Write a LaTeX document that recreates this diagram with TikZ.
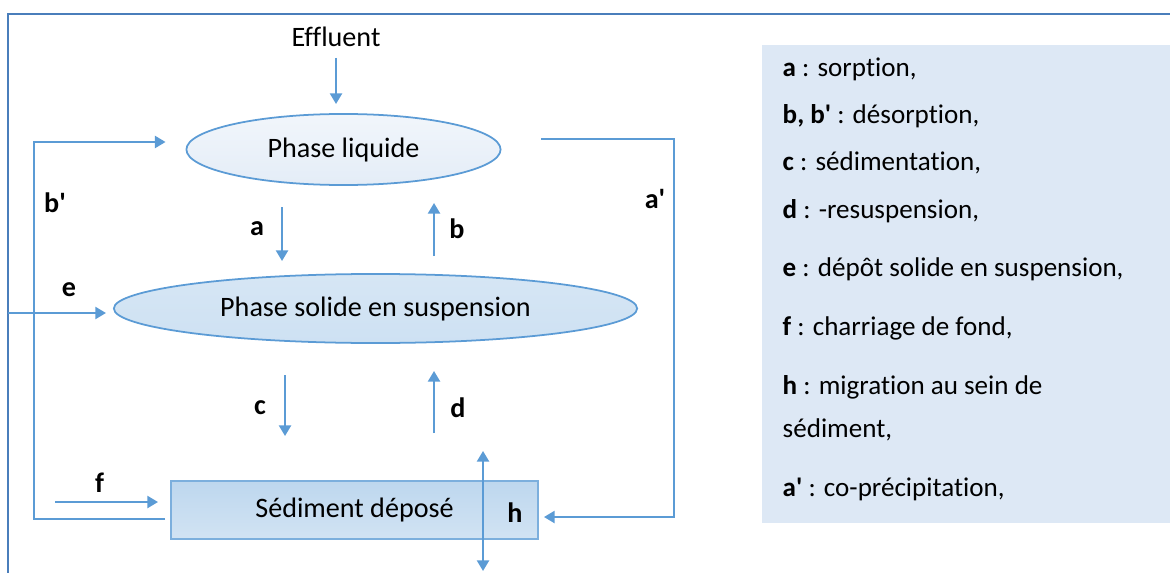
\documentclass[tikz,border=0pt]{standalone}
\usepackage{fontspec}
\setmainfont{Carlito}[Ligatures={NoCommon}]
\usetikzlibrary{shapes.geometric,arrows.meta}
\definecolor{lineblue}{HTML}{5B9BD5}
\definecolor{frameblue}{HTML}{4A7EBB}
\definecolor{legendfill}{HTML}{DDE8F5}
\newcommand{\pr}{\textquotesingle}
\begin{document}
\begin{tikzpicture}[x=0.01cm,y=-0.01cm,
  tip/.tip={Triangle[length=3pt,width=3.4pt]},
  wire/.style={draw=lineblue,line width=0.6pt},
  flow/.style={wire,-tip},
  phase/.style={ellipse,draw=lineblue,line width=0.5pt,inner sep=0pt},
  txt/.style={font=\fontsize{8}{9.6}\selectfont},
  key/.style={anchor=west,inner sep=0pt,font=\fontsize{7.7}{9.2}\selectfont},
  lbl/.style={font=\bfseries\fontsize{8}{9.6}\selectfont}]
\useasboundingbox (0,0) rectangle (1170,573);
% frame
\draw[frameblue,line width=0.7pt] (8,573) -- (8,14) -- (1170,14);
% phases
\node[txt] (eff) at (336,37) {Effluent};
\node[phase,txt,minimum width=3.14cm,minimum height=0.71cm,
  top color=white!60!legendfill,bottom color=legendfill!80] (liq) at (343.5,149.5) {Phase liquide};
\node[phase,txt,minimum width=5.23cm,minimum height=0.69cm,
  top color=lineblue!25,bottom color=lineblue!30] (sol) at (375.5,308.5) {Phase solide en suspension};
\node[rectangle,draw=lineblue!80,line width=0.5pt,txt,minimum width=3.67cm,minimum height=0.58cm,
  top color=lineblue!40,bottom color=lineblue!28] (sed) at (354.5,510) {Sédiment déposé};
% free ends
\coordinate (a0) at (282,207); \coordinate (a1) at (282,261);
\coordinate (b0) at (434,256); \coordinate (b1) at (434,203);
\coordinate (c0) at (285,375); \coordinate (c1) at (285,436);
\coordinate (d0) at (434,433); \coordinate (d1) at (434,371);
\coordinate (h0) at (483,451); \coordinate (h1) at (483,571);
\coordinate (e0) at (8,313);
\coordinate (f0) at (55,502);
% connectors
\draw[flow] (eff.south |- 0,58) -- (eff.south |- 0,104);
\draw[flow] (a0) -- (a1);
\draw[flow] (b0) -- (b1);
\draw[flow] (c0) -- (c1);
\draw[flow] (d0) -- (d1);
\draw[wire,tip-tip] (h0) -- (h1);
\draw[flow] (e0) -- ([xshift=-0.07cm]sol.west |- e0);
\draw[flow] (f0) -- ([xshift=-0.12cm]sed.west |- f0);
\draw[flow] ([shift={(-0.05cm,-0.09cm)}]sed.west) -| (34,142) -- ([xshift=-0.2cm]liq.west |- 0,142);
\draw[flow] (541,139) -| (674,517) -- ([xshift=0.05cm]sed.east |- 0,517);
% labels
\node[lbl] (lbp) at (55,203) {b\pr};
\node[lbl] (la) at (257,229) {a};
\node[lbl] (lb) at (457,229) {b};
\node[lbl] (le) at (69,290) {e};
\node[lbl] (lc) at (260,408) {c};
\node[lbl] (ld) at (458,408) {d};
\node[lbl] (lf) at (99.5,483) {f};
\node[lbl] (lh) at (515,513) {h};
\node[lbl] (lap) at (655,199) {a\pr};
% legend
\node[fill=legendfill,minimum width=4.08cm,minimum height=4.78cm,inner sep=0pt] (leg) at (966,284) {};
\node[key] (k1) at (782,69) {\textbf{a} : sorption,};
\node[key] (k2) at (782,116) {\textbf{b, b\pr} : désorption,};
\node[key] (k3) at (782,163) {\textbf{c} : sédimentation,};
\node[key] (k4) at (782,211) {\textbf{d} : -resuspension,};
\node[key] (k5) at (782,269) {\textbf{e} : dépôt solide en suspension,};
\node[key] (k6) at (782,328) {\textbf{f} : charriage de fond,};
\node[key] (k7) at (782,387) {\textbf{h} : migration au sein de};
\node[key] (k8) at (782,430) {sédiment,};
\node[key] (k9) at (782,489) {\textbf{a\pr} : co-précipitation,};
\end{tikzpicture}
\end{document}
